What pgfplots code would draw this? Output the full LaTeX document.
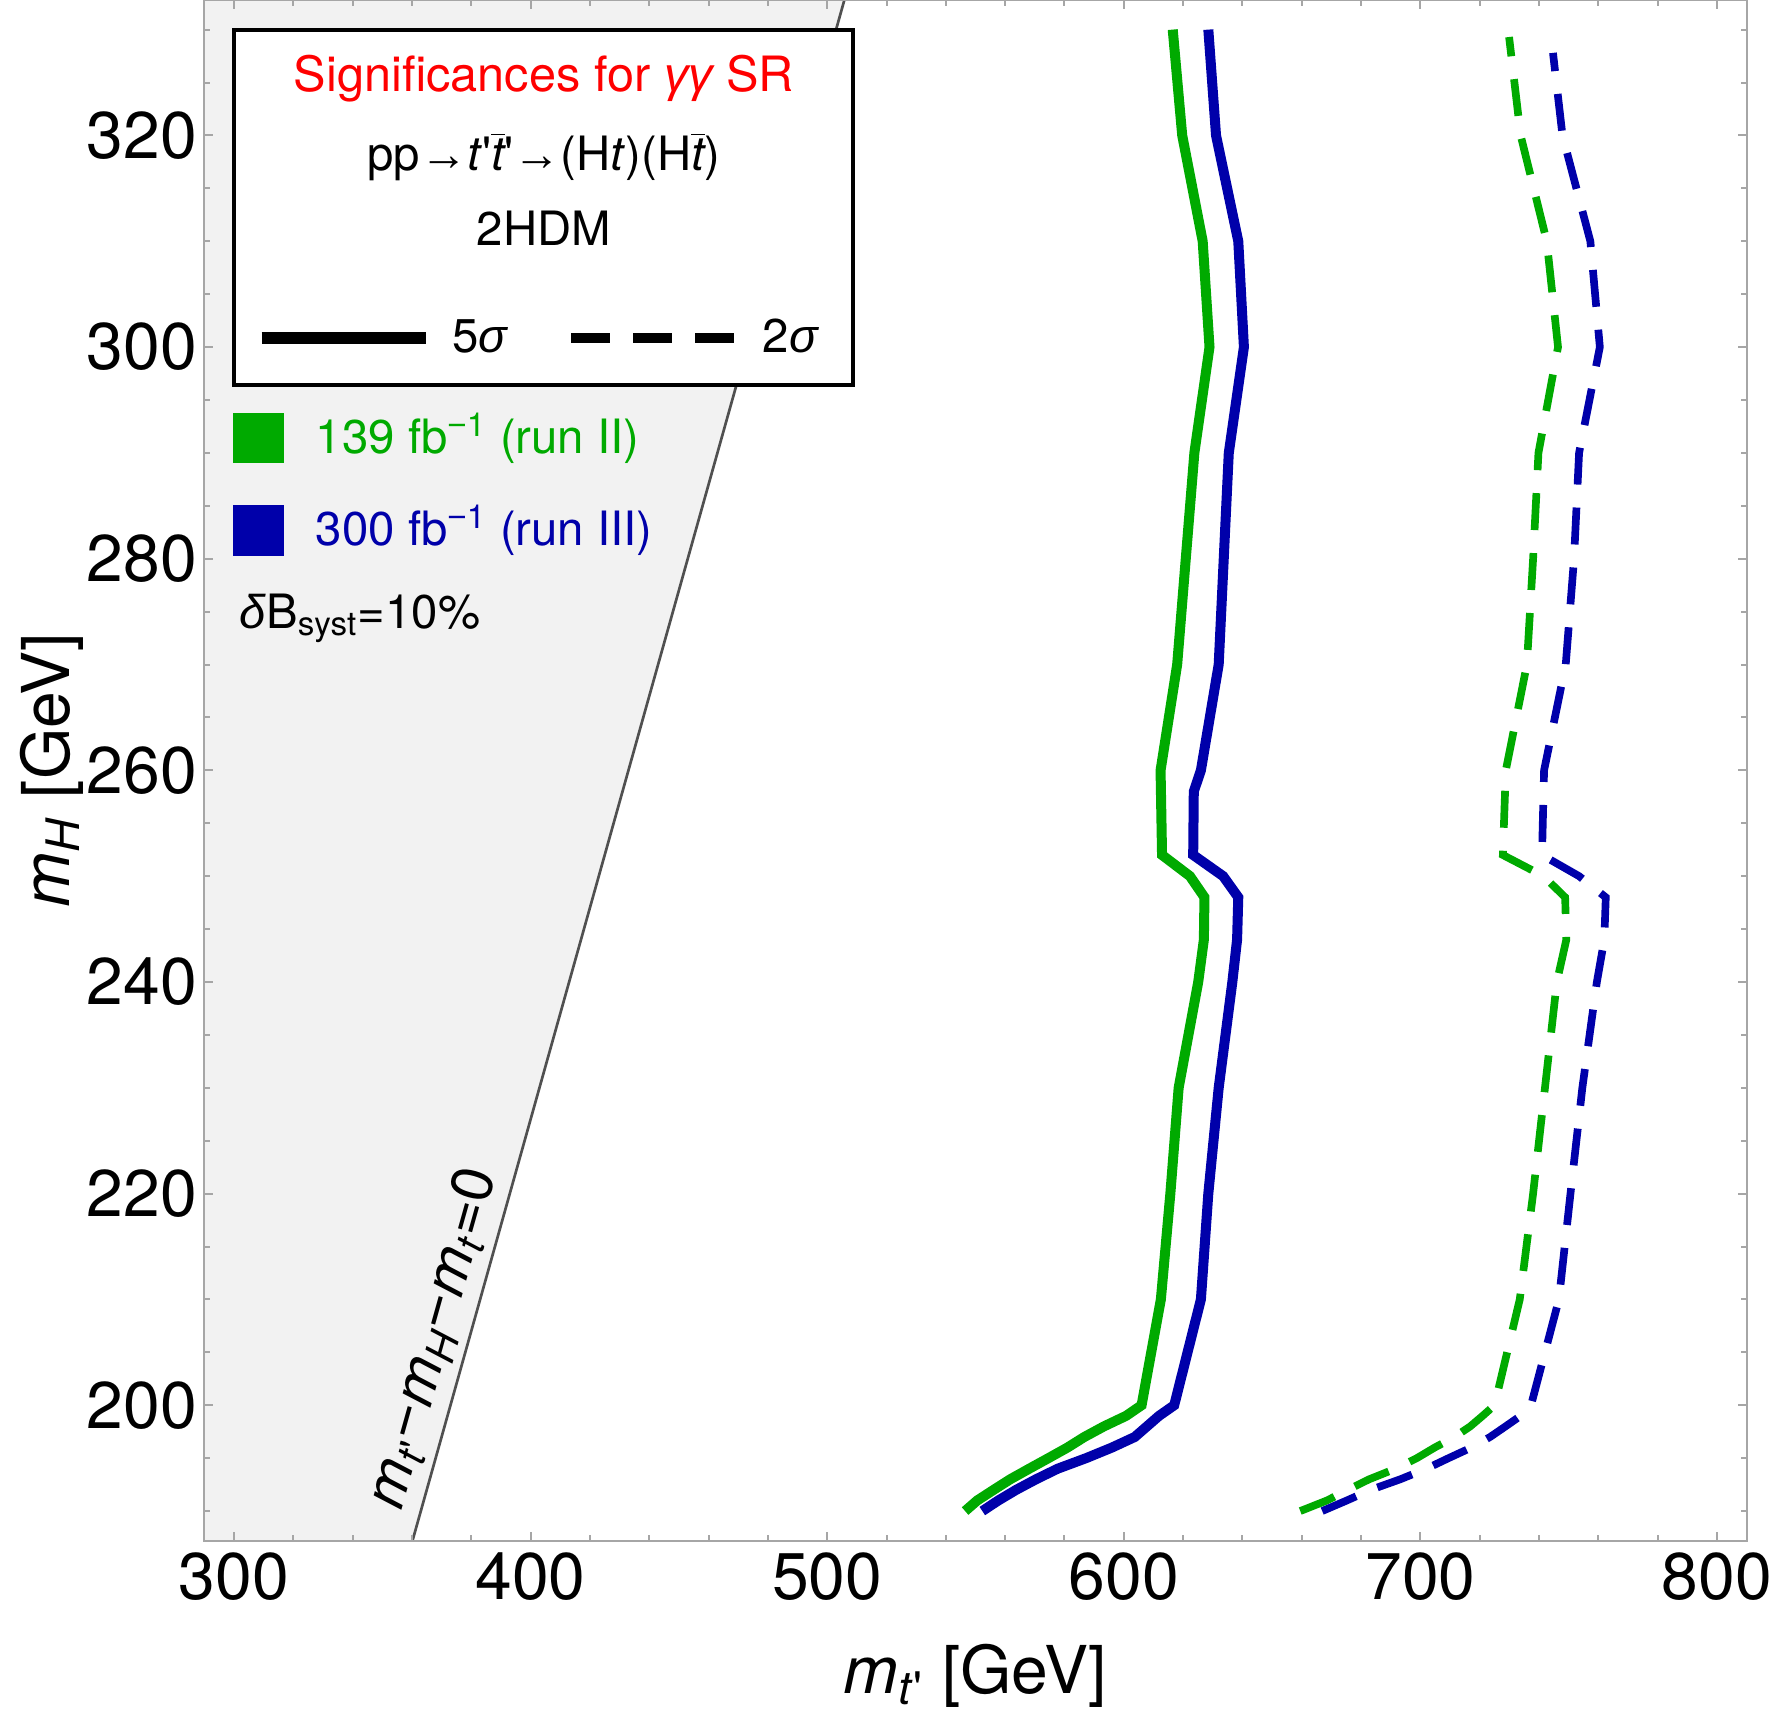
\documentclass[border=0pt]{standalone}
\usepackage{fontspec}
\setmainfont{TeX Gyre Heros}
\newfontfamily\symf{Liberation Sans}
\usepackage{pgfplots}
\pgfplotsset{compat=1.18}

\definecolor{cgreen}{RGB}{0,170,0}
\definecolor{cblue}{RGB}{0,0,170}
\definecolor{shade}{RGB}{242,242,242}
\definecolor{framegray}{RGB}{166,166,166}
\definecolor{kinline}{RGB}{80,80,80}

\newcommand{\gk}[1]{{\symf\itshape #1}}
\newcommand{\pr}{\textquotesingle}
\newcommand{\tbar}{\ensuremath{\overline{\mbox{\itshape t}}}}
\newcommand{\mi}{{\symf −}}

\begin{document}
\begin{tikzpicture}
\begin{axis}[
  width=462.72pt, height=462.21pt, scale only axis,
  xmin=290, xmax=810, ymin=187.2, ymax=332.8,
  axis line style={draw=framegray, line width=0.6pt},
  xtick={300,400,...,800}, ytick={200,220,...,320},
  minor xtick={320,340,...,780}, minor ytick={190,195,...,330},
  tick align=inside,
  major tick length=2.7pt, minor tick length=1.7pt,
  tick style={draw=framegray, line width=0.6pt},
  tick label style={font=\fontsize{19.8}{24}\selectfont, text=black},
  /pgf/number format/assume math mode=true,
  yticklabel style={inner xsep=2pt},
  label style={font=\fontsize{19.8}{24}\selectfont},
  xlabel={\textit{m}\textsubscript{\textit{t}\pr} [GeV]},
  ylabel={\textit{m}\textsubscript{\textit{H}} [GeV]},
  xlabel style={at={(axis description cs:0.5,-0.0995)}, anchor=base},
  ylabel style={at={(axis description cs:-0.0875,0.5)}, anchor=base},
  axis on top,
]

% kinematically forbidden region m_t' < m_H + m_t
\addplot[draw=none, fill=shade] coordinates {(290,187.2) (360.2,187.2) (505.8,332.8) (290,332.8)} -- cycle;
\addplot[kinline, line width=0.8pt] coordinates {(360.2,187.2) (505.8,332.8)};
\node[rotate=74.34, font=\fontsize{17.5}{21}\selectfont] at (axis cs:367.4,206.3)
  {\textit{m}\textsubscript{\textit{t}\pr}\mi\textit{m}\textsubscript{\textit{H}}\mi\textit{m}\textsubscript{\textit{t}}=0};

% 5 sigma, 139 fb^-1
\addplot[cgreen, line width=3pt] coordinates {
 (546.5,190) (550.6,191) (556.1,192) (561.7,193) (568.1,194) (574.6,195) (581.0,196)
 (586.7,197) (593.3,198) (600.8,199) (606.0,200) (612.5,210) (615.7,220) (618.5,230)
 (625.1,240) (627.0,244) (627.2,248) (622.3,250) (612.9,252) (612.4,260) (618.0,270)
 (620.9,280) (623.8,290) (628.9,300) (626.6,310) (619.7,320) (616.5,330)};
% 5 sigma, 300 fb^-1
\addplot[cblue, line width=3pt] coordinates {
 (552.3,190) (557.7,191) (563.7,192) (570.4,193) (577.7,194) (587.3,195) (596.0,196)
 (603.7,197) (607.8,198) (611.9,199) (617.0,200) (626.0,210) (628.5,220) (632.0,230)
 (636.6,240) (638.2,244) (638.6,248) (633.5,250) (623.4,252) (623.6,258) (626.0,260)
 (632.0,270) (633.7,280) (635.4,290) (640.5,300) (638.6,310) (631.1,320) (628.5,330)};
% 2 sigma, 139 fb^-1
\addplot[cgreen, line width=2.3pt, dash pattern=on 11.1pt off 6.9pt] coordinates {
 (659.5,190) (668.5,191) (675.5,192) (682.7,193) (691.6,194) (698.8,195) (704.8,196)
 (711.5,197) (716.8,198) (721.0,199) (725.0,200) (733.5,210) (738.0,220) (742.0,230)
 (746.0,240) (749.2,244) (748.8,248) (741.5,250) (727.8,252) (728.8,260) (735.9,270)
 (738.0,280) (739.8,290) (746.4,300) (742.6,310) (733.8,320) (729.9,329.3)};
% 2 sigma, 300 fb^-1
\addplot[cblue, line width=2.3pt, dash pattern=on 11.1pt off 6.9pt] coordinates {
 (666.9,190) (675.2,191) (683.2,192) (693.2,193) (702.0,194) (709.5,195) (717.2,196)
 (723.5,197) (728.7,198) (733.8,199) (737.3,200) (746.7,210) (750.6,220) (754.6,230)
 (759.5,240) (762.0,244) (762.5,248) (753.5,250) (741.0,252) (741.7,260) (749.0,270)
 (751.8,280) (753.5,290) (760.5,300) (757.3,310) (747.9,320) (744.7,327.8)};

% legend panel
\draw[fill=white, line width=1.2pt] (axis cs:300,330) rectangle (axis cs:508.8,296.45);
\begin{scope}[every node/.style={font=\fontsize{14.2}{17}\selectfont, inner sep=0pt}]
\node[anchor=base, text=red, font=\fontsize{14.6}{17}\selectfont] at (axis cs:404.5,324.15) {Significances for \gk{γγ} SR};
\node[anchor=base] at (axis cs:404.5,316.64) {pp{\symf →}\textit{t}\pr\tbar\pr{\symf →}(H\textit{t})(H\tbar)};
\node[anchor=base] at (axis cs:404.5,309.63) {2HDM};
\draw[black, line width=3.4pt] (axis cs:309.3,300.87) -- (axis cs:364.6,300.87);
\node[anchor=base west] at (axis cs:373.4,299.5) {5\gk{σ}};
\draw[black, line width=3.2pt, dash pattern=on 11.7pt off 6.9pt] (axis cs:413.7,300.87) -- (axis cs:468.5,300.87);
\node[anchor=base west] at (axis cs:478.1,299.5) {2\gk{σ}};
\fill[cgreen] (axis cs:299.8,293.8) rectangle (axis cs:316.9,289.0);
\fill[cblue] (axis cs:299.8,285.03) rectangle (axis cs:316.9,280.24);
\node[anchor=base west, text=cgreen] at (axis cs:327.4,289.9) {139 fb\textsuperscript{\mi1} (run II)};
\node[anchor=base west, text=cblue] at (axis cs:327.4,281.2) {300 fb\textsuperscript{\mi1} (run III)};
\node[anchor=base west] at (axis cs:301.8,273.4) {\gk{δ}B\textsubscript{syst}=10\%};
\end{scope}
\end{axis}
\pgfresetboundingbox
\path (current axis.south west) ++(-61.29pt,-51.09pt) rectangle ++(531.3pt,513.3pt);
\end{tikzpicture}
\end{document}
